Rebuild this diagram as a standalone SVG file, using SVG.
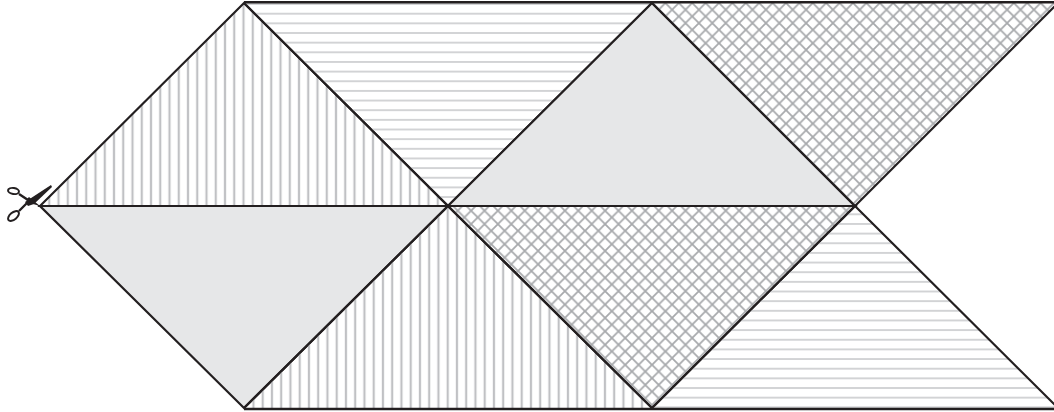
<svg xmlns="http://www.w3.org/2000/svg" width="1054" height="412" viewBox="0 0 1054 412">
<style>
.o{fill:none;stroke:#231f20;stroke-width:2.2;stroke-linejoin:miter}
.e{fill:none;stroke:#231f20;stroke-width:2.6}
.g{fill:#e6e7e8}
</style>
<defs>
<pattern id="v" patternUnits="userSpaceOnUse" x="243.500" y="0" width="9.250" height="10"><path d="M0,0V10M9.250,0V10" stroke="#c0c1c4" stroke-width="2.200" fill="none"/></pattern>
<pattern id="v2" patternUnits="userSpaceOnUse" x="447.700" y="0" width="9.250" height="10"><path d="M0,0V10M9.250,0V10" stroke="#c0c1c4" stroke-width="2.200" fill="none"/></pattern>
<pattern id="h" patternUnits="userSpaceOnUse" x="0" y="13.700" width="10" height="9.650"><path d="M0,0H10M0,9.650H10" stroke="#c4c5c7" stroke-width="1.300" fill="none"/></pattern>
<pattern id="h2" patternUnits="userSpaceOnUse" x="0" y="214.300" width="10" height="9.650"><path d="M0,0H10M0,9.650H10" stroke="#c4c5c7" stroke-width="1.300" fill="none"/></pattern>
<pattern id="x" patternUnits="userSpaceOnUse" x="652" y="3" width="13.400" height="13.400"><path d="M-1,-1L14.400,14.400M14.400,-1L-1,14.400" stroke="#a7a9ac" stroke-width="1.800" fill="none"/></pattern>
</defs>
<g id="tri-v-top"><path d="M40,206L244,3L448,206Z" fill="url(#v)"/><path class="o" d="M40,206L244,3L448,206Z"/></g>
<g id="tri-h-top"><path d="M244,3H652L448,206Z" fill="url(#h)"/><path class="o" d="M652,3L448,206L244,3"/><path class="e" d="M244,2.200H652"/></g>
<g id="tri-g-top"><path class="g" d="M652,3L855,206H448Z"/><path class="o" d="M652,3L855,206H448Z"/></g>
<g id="tri-x-top"><path d="M652,3H1058L855,206Z" fill="url(#x)"/><path class="o" d="M652,3L855,206L1058,3"/><path class="e" d="M652,2.200H1056"/></g>
<g id="tri-g-bot"><path class="g" d="M40,206H448L244,408Z"/><path class="o" d="M40,206H448L244,408Z"/></g>
<g id="tri-v-bot"><path d="M448,206L652,408H244Z" fill="url(#v2)"/><path class="o" d="M244,408L448,206L652,408"/><path class="e" d="M244,409H652"/></g>
<g id="tri-x-bot"><path d="M448,206H855L652,408Z" fill="url(#x)"/><path class="o" d="M448,206H855L652,408Z"/></g>
<g id="tri-h-bot"><path d="M855,206L1058,408H652Z" fill="url(#h2)"/><path class="o" d="M652,408L855,206L1058,408"/><path class="e" d="M652,409H1056"/></g>
<g id="scissors">
<path d="M51,185L52,187L34,204L28,206L25,202Z" fill="#231f20"/>
<path d="M40,206L29,197L26,200L33,204Z" fill="#231f20"/>
<path d="M28,200L19,194M27,203L19,211" fill="none" stroke="#231f20" stroke-width="2.400"/>
<ellipse cx="13.500" cy="191" rx="5.500" ry="3" transform="rotate(8 13.500 191)" fill="none" stroke="#231f20" stroke-width="2"/>
<ellipse cx="13.500" cy="216" rx="6.500" ry="3.500" transform="rotate(-40 13.500 216)" fill="none" stroke="#231f20" stroke-width="2"/>
</g>
</svg>
